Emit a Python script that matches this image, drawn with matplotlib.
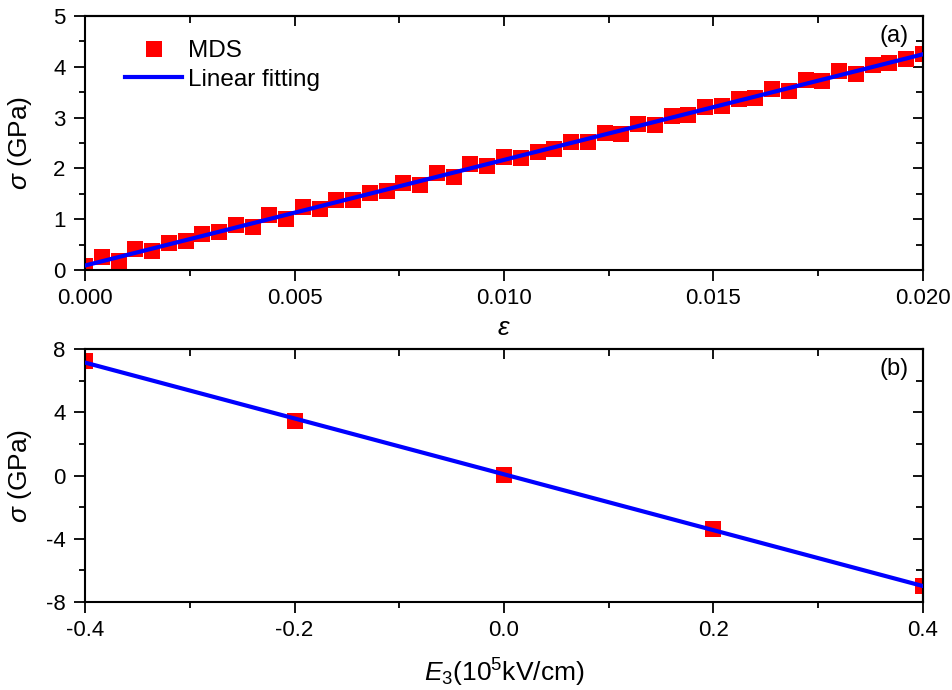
import numpy as np
import matplotlib.pyplot as plt
from matplotlib.ticker import MultipleLocator

plt.rcParams['font.family'] = ['Liberation Sans', 'DejaVu Sans']
plt.rcParams['mathtext.fontset'] = 'custom'
plt.rcParams['mathtext.rm'] = 'Liberation Sans'
plt.rcParams['mathtext.it'] = 'Liberation Sans:italic'
plt.rcParams['axes.unicode_minus'] = False

# panel (a): stress vs strain
strain = np.arange(51) * 0.0004
stress_a = [0.08, 0.26, 0.17, 0.41, 0.37, 0.53, 0.57, 0.71, 0.74, 0.89,
            0.84, 1.09, 1.01, 1.24, 1.20, 1.37, 1.38, 1.51, 1.55, 1.71,
            1.68, 1.91, 1.83, 2.08, 2.04, 2.22, 2.21, 2.32, 2.39, 2.52,
            2.52, 2.70, 2.67, 2.88, 2.85, 3.03, 3.05, 3.20, 3.22, 3.36,
            3.39, 3.57, 3.53, 3.74, 3.72, 3.91, 3.86, 4.03, 4.08, 4.16,
            4.25]

# panel (b): stress vs field
field = [-0.4, -0.2, 0.0, 0.2, 0.4]
stress_b = [7.26, 3.46, 0.03, -3.39, -6.98]

red = '#ff0000'
blue = '#0000ff'

fig = plt.figure(figsize=(9.53, 6.9), dpi=100)
ax1 = fig.add_axes([0.0892, 0.6087, 0.8793, 0.3681])
ax2 = fig.add_axes([0.0892, 0.1275, 0.8793, 0.3667])

# top panel
ax1.plot(strain, stress_a, 's', color=red, ms=11.5, mew=0, label='MDS', zorder=2)
k, b = np.polyfit(strain, stress_a, 1)
xf = np.array([strain[0], strain[-1]])
ax1.plot(xf, k * xf + b, color=blue, lw=3, label='Linear fitting', zorder=3)
ax1.set_xlim(0, 0.02)
ax1.set_ylim(0, 5)
ax1.xaxis.set_major_locator(MultipleLocator(0.005))
ax1.xaxis.set_minor_locator(MultipleLocator(0.0025))
ax1.yaxis.set_major_locator(MultipleLocator(1))
ax1.yaxis.set_minor_locator(MultipleLocator(0.5))
ax1.xaxis.set_major_formatter(plt.FormatStrFormatter('%.3f'))
ax1.set_xlabel(r'$\varepsilon$', fontsize=19)
ax1.set_ylabel(r'$\sigma$ (GPa)', fontsize=19)
ax1.xaxis.set_label_coords(0.5, -0.228)
ax1.yaxis.set_label_coords(-0.0776, 0.5)
ax1.legend(loc='upper left', frameon=False, fontsize=17.5, handlelength=2.35,
           handletextpad=0.25, borderaxespad=0, borderpad=0,
           bbox_to_anchor=(0.048, 0.905), labelspacing=0.28)
ax1.text(0.983, 0.965, '(a)', transform=ax1.transAxes, ha='right', va='top', fontsize=17)

# bottom panel
ax2.plot(field, stress_b, 's', color=red, ms=11.5, mew=0, zorder=2)
k2, b2 = np.polyfit(field, stress_b, 1)
xf2 = np.array([field[0], field[-1]])
ax2.plot(xf2, k2 * xf2 + b2, color=blue, lw=3, zorder=3)
ax2.set_xlim(-0.4, 0.4)
ax2.set_ylim(-8, 8)
ax2.xaxis.set_major_locator(MultipleLocator(0.2))
ax2.xaxis.set_minor_locator(MultipleLocator(0.1))
ax2.yaxis.set_major_locator(MultipleLocator(4))
ax2.yaxis.set_minor_locator(MultipleLocator(2))
ax2.xaxis.set_major_formatter(plt.FormatStrFormatter('%.1f'))
ax2.set_xlabel(r'$E_3$(10$^5$kV/cm)', fontsize=19)
ax2.set_ylabel(r'$\sigma$ (GPa)', fontsize=19)
ax2.xaxis.set_label_coords(0.5, -0.281)
ax2.yaxis.set_label_coords(-0.0776, 0.5)
ax2.text(0.983, 0.965, '(b)', transform=ax2.transAxes, ha='right', va='top', fontsize=17)

for ax in (ax1, ax2):
    ax.xaxis.label.set_verticalalignment('center')
    ax.yaxis.label.set_verticalalignment('center')
    for s in ax.spines.values():
        s.set_linewidth(1.5)
    ax.tick_params(which='both', labelsize=16, width=1.3, direction='out',
                   top=False, right=False)
    ax.tick_params(which='major', length=8)
    ax.tick_params(which='minor', length=4)
    ax.tick_params(axis='x', which='both', pad=5)
    ax.tick_params(axis='y', which='both', pad=6)
    # inward ticks on top and right edges
    tx = ax.secondary_xaxis('top')
    tx.xaxis.set_major_locator(ax.xaxis.get_major_locator())
    tx.xaxis.set_minor_locator(ax.xaxis.get_minor_locator())
    tx.tick_params(which='both', direction='in', labeltop=False, width=1.3)
    tx.tick_params(which='major', length=7)
    tx.tick_params(which='minor', length=5)
    tx.spines['top'].set_linewidth(1.5)
    ty = ax.secondary_yaxis('right')
    ty.yaxis.set_major_locator(ax.yaxis.get_major_locator())
    ty.yaxis.set_minor_locator(ax.yaxis.get_minor_locator())
    ty.tick_params(which='both', direction='in', labelright=False, width=1.3)
    ty.tick_params(which='major', length=7)
    ty.tick_params(which='minor', length=5)
    ty.spines['right'].set_linewidth(1.5)

fig.savefig('out.png', dpi=100)
